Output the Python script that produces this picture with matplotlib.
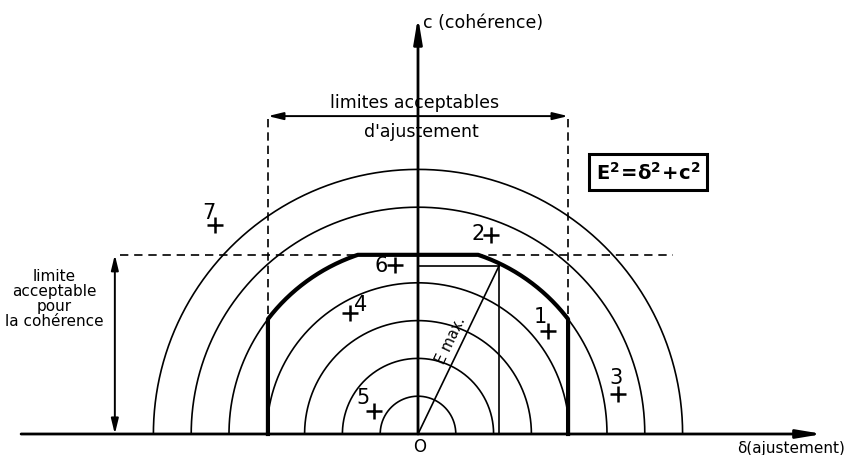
import numpy as np
import matplotlib.pyplot as plt

# cercles d'erreur E (unités du schéma)
radii = [1, 2, 3, 4, 5, 6, 7]
e_max = 5.0
delta_lim = 3.97      # limites acceptables d'ajustement
c_lim = 4.74          # limite acceptable pour la cohérence
e_point = (2.14, 4.44)

point_ids = ['7', '2', '6', '4', '1', '3', '5']
point_delta = [-5.37, 1.93, -0.61, -1.80, 3.44, 5.29, -1.16]
point_c = [5.53, 5.26, 4.47, 3.20, 2.72, 1.06, 0.61]
label_offsets = [(-6, 13), (-13, 2), (-14, 0), (11, 9), (-8, 15), (-2, 17), (-11, 14)]

unit = 37.8
fig = plt.figure(figsize=(8.47, 4.56), dpi=100)
ax = fig.add_axes([0, 0, 1, 1])
ax.set_xlim(-418 / unit, 429 / unit)
ax.set_ylim(-21 / unit, 435 / unit)
ax.axis('off')

thin = 1.2
k = 'black'

# demi-cercles
t = np.linspace(0, np.pi, 500)
for r in radii:
    x = r * np.cos(t)
    y = r * np.sin(t)
    if r == e_max:
        out = np.abs(x) >= delta_lim
        ax.plot(np.where(out & (x < 0), x, np.nan), y, color=k, lw=thin)
        ax.plot(np.where(out & (x > 0), x, np.nan), y, color=k, lw=thin)
    else:
        ax.plot(x, y, color=k, lw=thin)

# contour de la zone acceptable
phi1 = np.arctan2(np.sqrt(e_max**2 - delta_lim**2), delta_lim)
phi2 = np.arcsin(c_lim / e_max)
t1 = np.linspace(np.pi - phi1, np.pi - phi2, 100)
t2 = np.linspace(phi2, phi1, 100)
bx = np.concatenate([[-delta_lim], e_max * np.cos(t1), e_max * np.cos(t2), [delta_lim]])
by = np.concatenate([[0], e_max * np.sin(t1), e_max * np.sin(t2), [0]])
ax.plot(bx, by, color=k, lw=3, solid_joinstyle='round')

# lignes de construction E max
ax.plot([0, e_point[0]], [0, e_point[1]], color=k, lw=thin)
ax.plot([0, e_point[0]], [e_point[1], e_point[1]], color=k, lw=thin)
ax.plot([e_point[0], e_point[0]], [e_point[1], 0], color=k, lw=thin)
ax.text(0.87, 2.5, 'E max.', rotation=64.5, ha='center', va='center', fontsize=10.5)

# limites en tirets
top = 8.41
for d in (-delta_lim, delta_lim):
    ax.plot([d, d], [0, top], color=k, lw=1.2, dashes=(5, 3))
ax.plot([-7.88, 6.75], [c_lim, c_lim], color=k, lw=1.2, dashes=(5, 3.5))

# cotes
dim = dict(arrowstyle='<|-|>,head_length=0.9,head_width=0.22', color=k, lw=1.4,
           shrinkA=0, shrinkB=0)
ax.annotate('', xy=(delta_lim, top), xytext=(-delta_lim, top), arrowprops=dim)
ax.annotate('', xy=(-8.02, c_lim), xytext=(-8.02, 0), arrowprops=dim)

# axes
axis = dict(arrowstyle='-|>,head_length=1.5,head_width=0.25', color=k, lw=2,
            shrinkA=0, shrinkB=0)
ax.annotate('', xy=(10.71, 0), xytext=(-10.5, 0), arrowprops=axis)
ax.annotate('', xy=(0, 11.03), xytext=(0, 0), arrowprops=axis)

# textes
ax.text(0.13, 10.9, 'c (cohérence)', ha='left', va='center', fontsize=12.5)
ax.text(-0.08, 8.78, 'limites acceptables', ha='center', va='center', fontsize=12.5)
ax.text(0.08, 8.02, "d'ajustement", ha='center', va='center', fontsize=12.5)
ax.text(-9.63, 3.6, 'limite\nacceptable\npour\nla cohérence', ha='center', va='center',
        fontsize=11, linespacing=1.0)
ax.text(0.03, -0.32, 'O', ha='center', va='center', fontsize=12)
ax.text(9.87, -0.37, 'δ(ajustement)', ha='center', va='center', fontsize=11)
ax.text(6.09, 6.93, r'$\mathregular{E^2\!=\!\delta^2\!+\!c^2}$', ha='center', va='center',
        fontsize=14, fontweight='bold',
        bbox=dict(boxstyle='square,pad=0.35', fc='white', ec=k, lw=2.2))

# points
ax.plot(point_delta, point_c, linestyle='none', marker='+', ms=11, mew=1.8, color=k)
for pid, d, c, off in zip(point_ids, point_delta, point_c, label_offsets):
    ax.annotate(pid, xy=(d, c), xytext=off, textcoords='offset pixels',
                ha='center', va='center', fontsize=15)

fig.savefig('out.png', dpi=100)
